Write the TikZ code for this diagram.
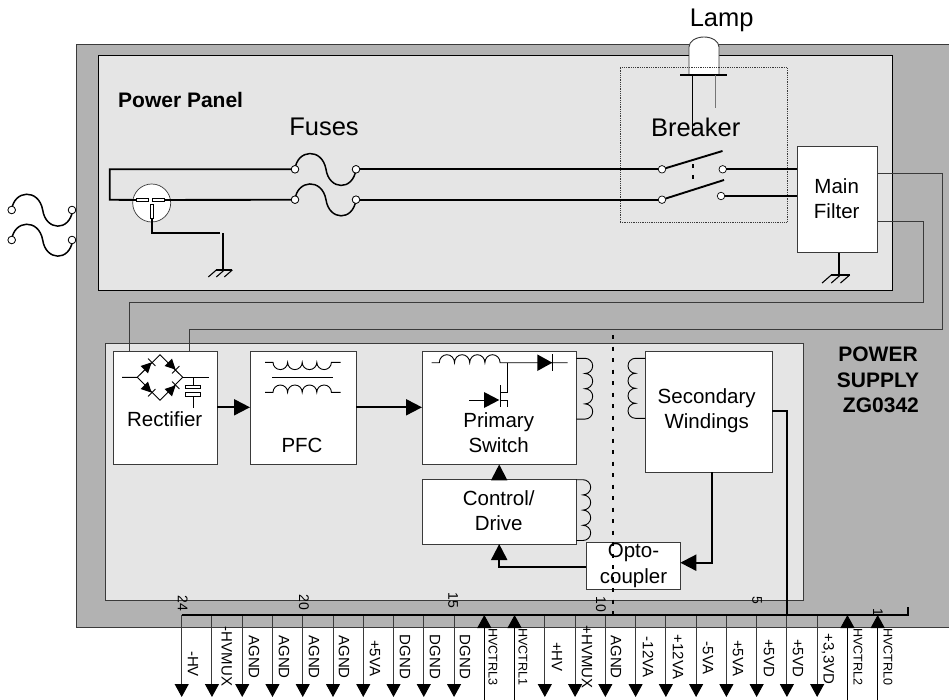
\documentclass[tikz,border=0pt]{standalone}
\usepackage{fontspec}
\setmainfont{Liberation Sans}
\usetikzlibrary{arrows.meta,positioning,calc,backgrounds}
\definecolor{Chassis}{HTML}{B2B2B2}
\definecolor{Panel}{HTML}{E5E5E5}
\definecolor{Edge}{HTML}{3A3A3A}
\definecolor{Ink}{HTML}{000000}
\newcommand{\fsz}[1]{\fontsize{#1}{25.3}\selectfont}

\begin{document}
\begin{tikzpicture}[
  x=1pt, y=-1pt,
  shell/.style={draw=#1, line width=1pt, inner sep=0pt, outer sep=0pt, anchor=north west},
  shell/.default=Edge,
  box/.style={draw=Edge, fill=white, line width=1pt, inner sep=0pt, outer sep=0pt},
  lbl/.style={inner sep=0pt, align=center, font=\fsz{20.5}},
  biglbl/.style={inner sep=0pt, font=\fsz{25.5}},
  boldlbl/.style={inner sep=0pt, font=\fsz{21}\bfseries},
  pinlbl/.style={inner sep=0pt, rotate=-90, font=\fsz{15}},
  ctrllbl/.style={inner sep=0pt, rotate=-90, font=\fsz{12.6}},
  numlbl/.style={inner sep=0pt, rotate=-90, font=\fsz{14}},
  contact/.style={circle, draw=Ink, fill=white, line width=0.7pt, inner sep=0pt, minimum size=7.5pt, outer sep=0pt},
  hv/.style={line width=1.9pt, Ink},
  thin/.style={line width=1pt, Edge},
  flow/.style={line width=2pt, Ink, -{Triangle[length=16pt,width=16pt]}},
  pinout/.style={line width=1pt, Edge, -{Triangle[length=13pt,width=14pt,color=Ink]}},
  pinin/.style={line width=1pt, Ink, -{Triangle[length=13pt,width=14pt]}},
  circ/.style={line width=0.9pt, Ink},
  earth/.pic={
    \draw[line width=1.5pt] (-7,0) -- (9,0);
    \foreach \ex in {-7,1,9} \draw[line width=1.1pt] (\ex,0) -- (\ex-8,7);
  },
  fuselink/.pic={
    \draw[line width=1.5pt] (0,0) .. controls (2,-20) and (27,-22) .. (31,0) .. controls (34,21) and (58,22) .. (61,0);
  },
  brdiode/.pic={
    \fill (-7,-7) -- (7,0) -- (-7,7) -- cycle;
    \draw[line width=0.9pt] (7,-7) -- (7,7);
  }
]
\useasboundingbox (0,0) rectangle (949,700);

% enclosures
\node[shell, fill=Chassis, minimum width=873pt, minimum height=583pt] (chassis) at (76,44.5) {};
\node[shell=Ink, fill=Panel, minimum width=794pt, minimum height=234pt] (panel) at (98.5,56) {};
\node[shell, fill=Panel, minimum width=698.5pt, minimum height=257pt] (sply) at (105,343) {};

% lamp
\node[inner sep=0pt, outer sep=0pt, minimum width=47pt, minimum height=0pt] (lampbase) at (703.5,75) {};
\fill[white] (689,75) -- (689,47) arc[x radius=15, y radius=10, start angle=180, end angle=360] -- (719,75) -- cycle;
\draw[line width=0.9pt, Edge] (689,75) -- (689,47) arc[x radius=15, y radius=10, start angle=180, end angle=360] -- (719,75);
\draw[line width=1.9pt] (lampbase.west) -- (lampbase.east);
\draw[line width=1pt] (692.7,75) -- (692.7,130);
\draw[line width=1pt, Edge!70] (715,75) -- (715,108);
\node[biglbl] (lamplbl) at (721.7,20) {Lamp};

% breaker
\node[shell, draw=Edge, line width=0.8pt, densely dotted, minimum width=167pt, minimum height=155pt] (brkbox) at (620,67.3) {};
\node[biglbl] (brklbl) at (695.7,127) {Breaker};
\node[contact] (pa) at (662,169.3) {};
\node[contact] (pb) at (662,199.7) {};
\node[contact] (qa) at (722.7,169.3) {};
\node[contact] (qb) at (721,196) {};
\coordinate (ta) at (722.5,151);
\coordinate (tb) at (724,180);
\draw[hv] (pa) -- (ta);
\draw[hv] (pb) -- (tb);
\draw[line width=1.9pt] (693,164.5) -- (693,168.5) (693,175) -- (693,179);

% main filter
\node[box, minimum width=80.4pt, minimum height=106pt, anchor=north west] (filt) at (797.3,146.7) {};
\node[lbl] (filtlbl) at (836.7,199) {Main\\Filter};
\coordinate (fgnd) at (839.3,275);
\draw[hv] (filt.south -| fgnd) -- (fgnd);
\pic[scale=1.15] at (fgnd) {earth};
\draw[hv] (qa) -- (qa -| filt.west);
\draw[hv] (qb) -- (qb -| filt.west);

% fuses and plug
\node[contact] (fa1) at (295,169.3) {};
\node[contact] (fa2) at (356,169.3) {};
\node[contact] (fb1) at (295,199.7) {};
\node[contact] (fb2) at (356,199.7) {};
\pic at (fa1) {fuselink};
\pic at (fb1) {fuselink};
\node[contact] at (295,169.3) {};
\node[contact] at (356,169.3) {};
\node[contact] at (295,199.7) {};
\node[contact] at (356,199.7) {};
\node[biglbl] (fuselbl) at (324,126.7) {Fuses};
\node[circle, draw=Edge, fill=white, line width=0.7pt, minimum size=38pt, inner sep=0pt] (plug) at (151.7,203) {};
\node[draw=Ink, fill=white, line width=0.7pt, minimum width=11.6pt, minimum height=3.4pt, inner sep=0pt, outer sep=0pt] (slota) at (142.5,200) {};
\node[draw=Ink, fill=white, line width=0.7pt, minimum width=12.3pt, minimum height=3.4pt, inner sep=0pt, outer sep=0pt] (slotb) at (158,200) {};
\node[draw=Ink, fill=white, line width=0.7pt, minimum width=3.4pt, minimum height=14pt, inner sep=0pt, outer sep=0pt] (slotc) at (151.7,211) {};
\draw[hv] (fa1) -- (109.7,169.3) -- (109.7,199.7) -- (slota.west);
\draw[hv] (slotb.east) -- (fb1);
\draw[hv] (slotc.south) -- (151.7,233.3) -- (220,233.3);
\coordinate (pgnd) at (223.3,270);
\draw[hv] (223.3,233.3) -- (pgnd);
\pic at (pgnd) {earth};
\draw[hv] (fa2) -- (pa);
\draw[hv] (fb2) -- (pb);
\node[boldlbl, anchor=west] (panellbl) at (118,100) {Power Panel};

% mains source
\node[contact] (sa1) at (11.7,210) {};
\node[contact] (sa2) at (72,210) {};
\node[contact] (sb1) at (11.7,240) {};
\node[contact] (sb2) at (72,240) {};
\pic at (sa1) {fuselink};
\pic at (sb1) {fuselink};
\node[contact] at (11.7,210) {};
\node[contact] at (72,210) {};
\node[contact] at (11.7,240) {};
\node[contact] at (72,240) {};

% supply blocks
\node[box, minimum width=103.6pt, minimum height=113.4pt, anchor=north west] (rect) at (113.7,351) {};
\node[box, minimum width=106pt, minimum height=113.4pt, right=32.7pt of rect] (pfc) {};
\node[box, minimum width=154.4pt, minimum height=113.4pt, right=66pt of pfc] (prim) {};
\node[box, minimum width=154.4pt, minimum height=64.6pt, below=15pt of prim] (ctrl) {};
\node[box, minimum width=127pt, minimum height=121pt, anchor=north west] (sec) at (645,351) {};
\node[box, minimum width=94pt, minimum height=46.3pt, anchor=north west] (opto) at (586.3,542.7) {};
\node[lbl] (rectlbl) at (164.7,419) {Rectifier};
\node[lbl] (pfclbl) at (302,445) {PFC};
\node[lbl] (primlbl) at (498.7,433) {Primary\\Switch};
\node[lbl] (ctrllbl) at (498.7,510.5) {Control/\\Drive};
\node[lbl] (seclbl) at (706.7,411) {Secondary\\Windings};
\node[boldlbl, align=center] (pslbl) at (878,380) {POWER\\SUPPLY\\\ ZG0342};

% feeds from filter
\draw[thin] (filt.east |- 0,174) -- (942,174) -- (942,329.7) -- (189,329.7) -- (189,0 |- rect.north);
\draw[thin] (filt.east |- 0,222) -- (923,222) -- (923,302) -- (129,302) -- (129,0 |- rect.north);

% bridge
\begin{scope}[circ]
  \draw (122,377.3) -- (137.3,377.3) -- (160,354.7) -- (182.7,377.3) -- (160,400.3) -- (137.3,377.3);
  \draw (182.7,377.3) -- (209,377.3);
  \draw (193.3,377.3) -- (193.3,385);
  \node[draw=Ink, fill=white, line width=0.7pt, minimum width=15pt, minimum height=3.4pt, inner sep=0pt] (capa) at (193.3,386.7) {};
  \node[draw=Ink, fill=white, line width=0.7pt, minimum width=15pt, minimum height=3.8pt, inner sep=0pt] (capb) at (193.3,394.7) {};
  \draw (capb.south) -- (193.3,407.7);
  \pic[rotate=45, scale=0.75] at (148,366) {brdiode};
  \pic[rotate=-45, scale=0.75] at (172,366) {brdiode};
  \pic[rotate=-45, scale=0.75] at (148,389) {brdiode};
  \pic[rotate=45, scale=0.75] at (172,389) {brdiode};
  % pfc windings
  \draw (265,362.3) -- (273,362.3) \foreach \k in {1,2,3,4} {arc[radius=7.3, start angle=180, end angle=0]} -- (340.7,362.3);
  \draw (272,377.3) -- (333,377.3);
  \draw (265,392.3) -- (273,392.3) \foreach \k in {1,2,3,4} {arc[radius=7.3, start angle=180, end angle=360]} -- (340.7,392.3);
  % primary switch
  \draw (431.7,362.7) -- (439.3,362.7) \foreach \k in {1,2,3,4} {arc[x radius=7.6, y radius=8, start angle=180, end angle=360]} -- (567.7,362.7);
  \fill (537.3,354.4) -- (552.3,362.7) -- (537.3,371) -- cycle;
  \draw (552.3,354.4) -- (552.3,371);
  \draw (507.3,362.7) -- (507.3,392) -- (500,392);
  \draw (469,400) -- (484,400);
  \fill (484,392) -- (499.3,400) -- (484,408) -- cycle;
  \draw (500,385) -- (500,407);
  \draw (500,400.7) -- (507.3,400.7) -- (507.3,407);
  % transformer windings
  \draw (prim.east |- 0,358.3) -- (585,358.3) \foreach \k in {1,2,3,4} {arc[x radius=7.7, y radius=7.6, start angle=-90, end angle=90]} -- (prim.east |- 0,419.1);
  \draw (sec.west |- 0,358.3) -- (635.5,358.3) \foreach \k in {1,2,3,4} {arc[x radius=7.5, y radius=7.5, start angle=270, end angle=90]} -- (sec.west |- 0,418.3);
  \draw (ctrl.east |- 0,479.7) -- (583,479.7) \foreach \k in {1,2,3,4} {arc[x radius=7.7, y radius=7.6, start angle=-90, end angle=90]} -- (ctrl.east |- 0,540.5);
\end{scope}

% power path
\draw[flow] (rect.east |- 0,407.3) -- (pfc.west |- 0,407.3);
\draw[flow] (pfc.east |- 0,407.3) -- (prim.west |- 0,407.3);
\draw[flow] (ctrl.north) -- (prim.south);
\draw[flow] (opto.west |- 0,567.3) -| (ctrl.south);
\draw[flow] (711.7,472) |- (opto.east |- 0,562.7);

% opto label and isolation line
\node[lbl] (optolbl) at (633.5,565.5) {Opto-\\coupler};
\draw[line width=2pt, dash pattern=on 4pt off 7.5pt] (612.7,335) -- (612.7,614);

% connector pins
\foreach \i/\txt/\tx/\ty in {0/-HV/193/664,1/-HVMUX/226.7/656.5,2/AGND/254/657,3/AGND/284/657,4/AGND/314/657,5/AGND/344/657,6/+5VA/375/658,7/DGND/405/657,8/DGND/435/657,9/DGND/465/657,12/+HV/557/657,13/+HVMUX/587/657,14/AGND/616/657,15/-12VA/648/657,16/+12VA/678/657,17/-5VA/708/658,18/+5VA/738/658,19/+5VD/769/658,20/+5VD/798/658,21/{+3,3VD}/828/659} {
  \coordinate (top\i) at ({181.7+30.26*\i},615);
  \coordinate (end\i) at ({181.7+30.26*\i},697);
  \draw[pinout] (top\i) -- (end\i);
  \node[pinlbl] (pin\i) at (\tx,\ty) {\txt};
}
\foreach \i/\txt/\tx in {10/HVCTRL3/493,11/HVCTRL1/523,22/HVCTRL2/858,23/HVCTRL0/888} {
  \coordinate (top\i) at ({181.7+30.26*\i},615);
  \coordinate (end\i) at ({181.7+30.26*\i},700);
  \draw[pinin] (end\i) -- (top\i);
  \node[ctrllbl] (pin\i) at (\tx,657) {\txt};
}

% secondary sense and bus
\draw[line width=2pt, Ink] (sec.east |- 0,411) -- (787,411) -- (787,615);
\draw[line width=2pt, Ink] (top0) -- (908,615) -- (908,607);
\foreach \n/\nx/\ny in {24/182.7/603,20/304/602,15/453/600,10/601/604,5/757/600,1/878/612} {
  \node[numlbl] (num\n) at (\nx,\ny) {\n};
}
\end{tikzpicture}
\end{document}
